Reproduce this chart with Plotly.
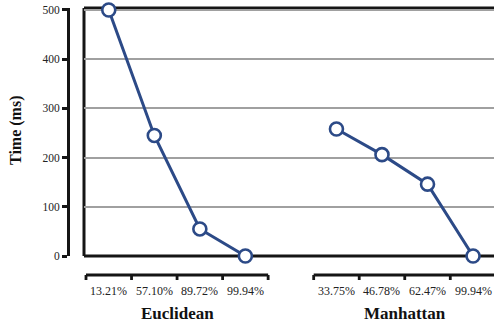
import plotly.graph_objects as go

# Search time per recall level for two distance metrics
groups = ["Euclidean", "Manhattan"]
euclid_labels = ["13.21%", "57.10%", "89.72%", "99.94%"]
euclid_time = [500, 245, 55, 0]
manhat_labels = ["33.75%", "46.78%", "62.47%", "99.94%"]
manhat_time = [258, 206, 146, 0]
y_ticks = [0, 100, 200, 300, 400, 500]

# Slot positions: one empty slot separates the two groups
euclid_x = [0, 1, 2, 3]
manhat_x = [5, 6, 7, 8]

LINE = "#2c4a87"
INK = "#151515"
SERIF = "Liberation Serif"

W, H = 494, 327
M_T, M_B = 8, 71
plot_h = H - M_T - M_B
x_left = 84
y_axis_px = 68

fig = go.Figure()
for xs, ys in [(euclid_x, euclid_time), (manhat_x, manhat_time)]:
    fig.add_trace(go.Scatter(
        x=xs, y=ys, mode="lines+markers",
        line=dict(color=LINE, width=3),
        marker=dict(size=13, color="white", line=dict(color=LINE, width=2.6)),
        cliponaxis=False, showlegend=False, hoverinfo="skip",
    ))

shapes = []
# plot frame: top, left, bottom
frame = dict(type="line", xref="paper", yref="paper", layer="below",
             line=dict(color=INK, width=3))
shapes.append(dict(frame, x0=x_left / W, x1=1, y0=1, y1=1))
shapes.append(dict(frame, x0=x_left / W, x1=x_left / W, y0=0, y1=1))
shapes.append(dict(frame, x0=x_left / W, x1=1, y0=0, y1=0))

# group brackets below the plot
br_y = -(275 - (H - M_B)) / plot_h
tk_y = -(280 - (H - M_B)) / plot_h
annotations = []
for xs, labels, name in [(euclid_x, euclid_labels, groups[0]),
                         (manhat_x, manhat_labels, groups[1])]:
    lo, hi = xs[0] - 0.5, xs[-1] + 0.5
    br = dict(type="line", xref="x", yref="paper",
              line=dict(color=INK, width=2.8))
    shapes.append(dict(br, x0=lo, x1=hi, y0=br_y, y1=br_y))
    for k in range(len(xs) + 1):
        shapes.append(dict(br, x0=lo + k, x1=lo + k, y0=br_y, y1=tk_y))
    for xv, lab in zip(xs, labels):
        annotations.append(dict(
            x=xv, y=-(291 - (H - M_B)) / plot_h, xref="x", yref="paper",
            text=lab, showarrow=False, xanchor="center", yanchor="middle",
            font=dict(family=SERIF, size=12, color="#222")))
    annotations.append(dict(
        x=(xs[0] + xs[-1]) / 2, y=-(313 - (H - M_B)) / plot_h,
        xref="x", yref="paper", text=f"<b>{name}</b>", showarrow=False,
        xanchor="center", yanchor="middle",
        font=dict(family=SERIF, size=17, color="#111")))

annotations.append(dict(
    x=16 / W, y=(H - M_B - 131) / plot_h, xref="paper", yref="paper",
    text="<b>Time (ms)</b>", textangle=-90, showarrow=False,
    xanchor="center", yanchor="middle",
    font=dict(family=SERIF, size=16, color="#111")))

fig.update_layout(
    width=W, height=H,
    margin=dict(l=0, r=0, t=M_T, b=M_B),
    paper_bgcolor="white", plot_bgcolor="white",
    xaxis=dict(domain=[x_left / W, 1], range=[-0.544, 8.46],
               showgrid=False, zeroline=False, showticklabels=False,
               showline=False, ticks=""),
    yaxis=dict(anchor="free", position=y_axis_px / W, range=[0, 504],
               tickvals=y_ticks, ticks="outside", ticklen=5, tickwidth=2.8,
               tickcolor=INK, showline=True, linecolor=INK,
               linewidth=3, showgrid=True, gridcolor="#a0a0a0",
               gridwidth=1.6, zeroline=False,
               tickfont=dict(family=SERIF, size=11.5, color="#222")),
    shapes=shapes, annotations=annotations,
)

fig.write_html("out.html")
